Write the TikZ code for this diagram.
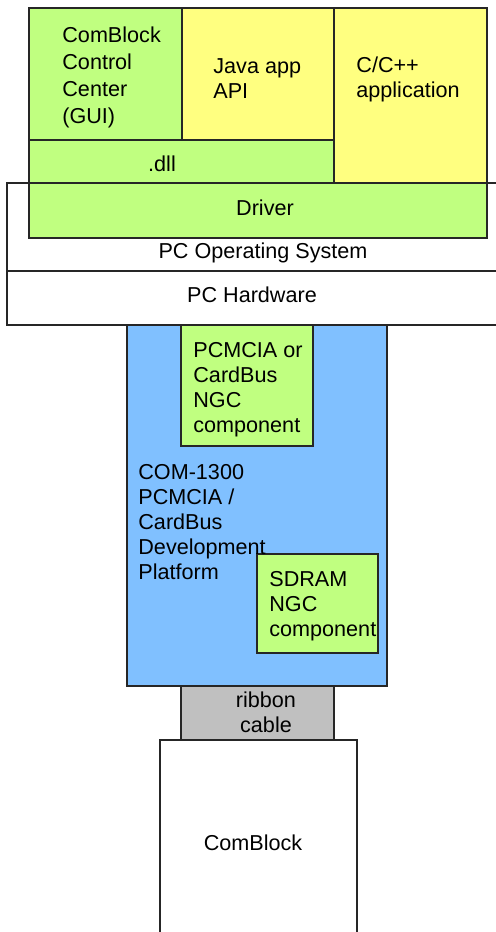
\documentclass[tikz,border=0pt]{standalone}
\usepackage{fontspec}
\setmainfont{Liberation Sans}
\usepackage{xcolor}
\newcommand{\myunit}{0.5pt}
\definecolor{boxgreen}{RGB}{192,255,128}
\definecolor{boxyellow}{RGB}{255,255,128}
\definecolor{boxblue}{RGB}{128,192,255}
\definecolor{boxgray}{RGB}{192,192,192}
\colorlet{edgecol}{black!85}
\tikzset{
    layersty/.style={draw=edgecol,line width=0.6pt},
    gncsty/.style={layersty,fill=boxgreen},
    ycsty/.style={layersty,fill=boxyellow},
    blcsty/.style={layersty,fill=boxblue},
    grcsty/.style={layersty,fill=boxgray},
    whclsty/.style={layersty,fill=white},
    txtsty/.style={inner sep=0pt,font=\fontsize{10.8}{12.5}\selectfont},
    ltxtsty/.style={txtsty,align=left},
    ctxtsty/.style={txtsty,align=center},
}

\begin{document}
\begin{tikzpicture}[x=\myunit,y=-\myunit]
  \useasboundingbox (0,0) rectangle (495,932);

  % PC side
  \path[whclsty] (7,183) rectangle (500,271);
  \path[whclsty] (7,271) rectangle (500,325);
  \path[gncsty] (29,8) rectangle (182,140);
  \path[ycsty] (182,8) rectangle (334,140);
  \path[ycsty] (334,8) rectangle (487,183);
  \path[gncsty] (29,140) rectangle (334,183);
  \path[gncsty] (29,183) rectangle (487,238);

  \node[ltxtsty,font=\fontsize{10.8}{13.5}\selectfont,anchor=west] (gui) at (62,77) {ComBlock\\Control\\Center\\(GUI)};
  \node[ltxtsty,anchor=west] (java) at (213,79) {Java app\\API};
  \node[ltxtsty,anchor=west] (capp) at (356,79) {C/C++\\application};
  \node[txtsty] (dll) at (162,164) {.dll};
  \node[txtsty] (driver) at (265,208) {Driver};
  \node[txtsty] (pcos) at (263,253) {PC Operating System};
  \node[txtsty] (pchw) at (252,295) {PC Hardware};

  % card side
  \path[blcsty] (127,325) rectangle (387,686);
  \path[gncsty] (181,325) rectangle (313,446);
  \path[gncsty] (257,554) rectangle (378,653);
  \path[grcsty] (181,686) rectangle (334,740);
  \path[whclsty] (160,740) rectangle (357,940);

  \node[ltxtsty,anchor=west] (pcmcia) at (193,390) {PCMCIA or\\CardBus\\NGC\\component};
  \node[ltxtsty,anchor=west] (board) at (138,522) {COM-1300\\PCMCIA /\\CardBus\\Development\\Platform};
  \node[ltxtsty,anchor=west] (sdram) at (269,606) {SDRAM\\NGC\\component};
  \node[ctxtsty] (ribbon) at (266,712) {ribbon\\cable};
  \node[txtsty] (comblock) at (253,843) {ComBlock};
\end{tikzpicture}
\end{document}
